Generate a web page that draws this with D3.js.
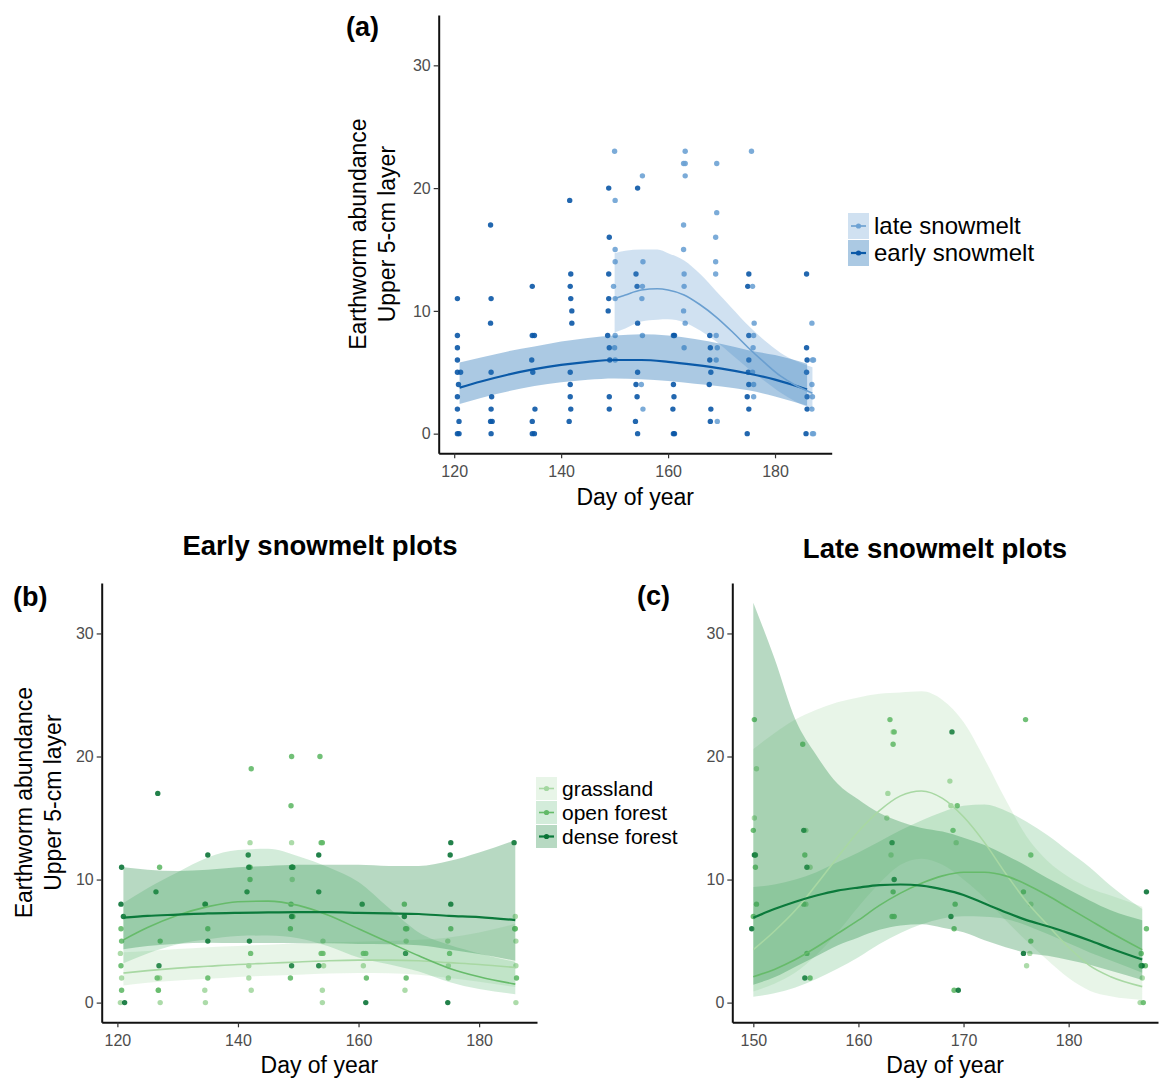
<!DOCTYPE html>
<html>
<head>
<meta charset="utf-8">
<script src="https://cdn.jsdelivr.net/npm/d3@7"></script>
<style>
  body { margin: 0; background: #fff; }
  text { font-family: "Liberation Sans", Arial, sans-serif; }
</style>
</head>
<body>
<svg id="chart" width="1161" height="1079"></svg>
<script>
// ---- data ----
var yTicks = [0, 10, 20, 30];
var xTicksAB = [120, 140, 160, 180];
var xTicksC = [150, 160, 170, 180];

// (a) observations [day, count]
var earlyPts = [
  [120.6,11],[120.6,8],[120.6,7],[120.6,6],[120.6,5],[121.2,5],[120.8,4],[120.6,3],[120.6,2],[120.9,1],[120.6,0],[120.9,0],
  [126.8,17],[126.9,11],[126.8,9],[126.9,5],[127.0,3],[126.9,2],[126.8,1],[127.1,1],[126.9,0],
  [134.6,12],[134.6,8],[135.0,8],[134.5,6],[134.7,5],[135.1,2],[134.6,1],[134.6,0],[135.0,0],
  [141.6,19],[141.8,13],[141.7,12],[141.8,11],[142.0,10],[142.0,9],[141.7,5],[141.7,4],[141.7,3],[141.8,2],[141.5,1],
  [148.9,20],[149.0,16],[148.9,13],[148.9,11],[148.8,10],[148.7,8],[149.0,7],[149.1,6],[149.0,3],[149.0,2],
  [154.3,20],[154.0,13],[154.2,12],[154.3,9],[154.3,5],[154.0,4],[154.2,3],[153.9,1],[154.3,0],
  [161.0,8],[161.2,8],[161.0,4],[161.1,3],[160.9,2],[161.0,0],[161.2,0],
  [167.8,8],[167.9,7],[167.8,6],[168.0,5],[167.7,4],[168.0,2],[167.9,1],
  [175.1,13],[174.9,12],[175.1,8],[175.1,6],[175.0,5],[175.1,4],[174.8,3],[175.1,2],[174.8,0],
  [185.9,13],[185.9,7],[186.0,6],[185.9,5],[186.0,3],[186.0,2],[185.8,0]
];
var latePts = [
  [150.0,23],[150.1,19],[150.1,15],[150.1,14],[149.8,12],[150.1,11],[150.1,8],[150.0,7],[150.1,6],
  [155.2,21],[155.3,14],[155.2,12],[155.1,11],[155.2,8],[155.0,4],[155.3,2],
  [163.2,23],[162.9,22],[163.2,22],[163.2,21],[162.9,17],[162.9,15],[163.0,13],[163.0,12],[162.9,10],[163.2,9],[163.0,7],
  [169.1,22],[169.1,18],[168.9,16],[168.9,14],[168.9,13],[169.0,8],[169.2,7],[169.0,6],[169.2,1],
  [175.6,23],[175.8,12],[176.1,9],[176.0,8],[175.9,7],[175.8,5],[176.0,4],[176.0,3],
  [186.9,9],[187.0,6],[187.2,6],[186.9,4],[187.0,3],[186.9,2],[187.0,0],[187.2,0]
];

// (a) smooth fits
var earlyDays = [121, 125, 130, 135, 140, 145, 150, 155, 160, 165, 170, 175, 180, 186];
var earlyFit  = [3.75, 4.25, 4.8, 5.25, 5.6, 5.85, 6.0, 6.0, 5.85, 5.6, 5.3, 4.9, 4.4, 3.6];
var earlyHi   = [5.8, 6.2, 6.7, 7.1, 7.5, 7.8, 8.0, 8.1, 8.0, 7.7, 7.3, 6.8, 6.4, 5.7];
var earlyLo   = [2.42, 2.91, 3.44, 3.88, 4.18, 4.39, 4.5, 4.44, 4.28, 4.07, 3.85, 3.53, 3.03, 2.27];

var lateDays = [150, 152, 155, 158, 160, 163, 166, 169, 172, 175, 178, 181, 184, 187];
var lateFit  = [11.0, 11.3, 11.7, 11.8, 11.7, 11.3, 10.5, 9.5, 8.3, 7.0, 5.8, 4.7, 3.9, 3.3];
var lateHi   = [14.7, 14.9, 15.0, 15.0, 14.7, 14.1, 13.0, 11.6, 10.2, 8.8, 7.6, 6.6, 5.9, 5.4];
var lateLo   = [8.23, 8.57, 9.13, 9.28, 9.31, 9.06, 8.4, 7.5, 6.4, 5.3, 4.3, 3.35, 2.58, 2.02];

// (b) early snowmelt plots, observations
var bDensePts = [
  [120.7,11],[120.6,8],[121.0,7],[121.2,0],[126.7,17],[126.4,9],[126.9,3],[135.0,12],[134.6,8],[135.0,5],
  [141.7,12],[141.8,11],[141.5,9],[141.9,5],[148.9,11],[149.1,11],[148.9,7],[148.9,3],[153.4,12],[153.4,9],[153.4,3],
  [160.6,8],[161.2,0],[167.6,7],[167.8,4],[175.3,13],[175.2,12],[175.3,8],[174.8,0],[185.8,13]
];
var bOpenPts = [
  [120.6,6],[120.7,5],[120.6,3],[120.7,1],[127.0,11],[127.1,5],[126.6,2],[126.8,1],[134.5,8],[135.0,6],[135.0,2],
  [142.2,19],[142.0,11],[142.0,10],[142.1,4],[148.9,20],[148.8,16],[149.0,11],[148.8,8],[149.1,7],[148.7,6],[148.7,2],
  [153.6,20],[153.8,13],[154.0,13],[153.8,4],[154.1,4],[160.8,4],[161.2,4],[161.3,2],
  [167.6,8],[167.8,6],[168.0,6],[167.9,2],[175.3,6],[175.1,4],[185.9,6],[186.0,6],[186.2,2]
];
var bGrassPts = [
  [120.5,4],[120.7,2],[120.5,0],[127.0,2],[126.8,1],[127.1,0],[134.5,1],[134.6,0],[142.0,13],[141.8,3],[141.8,2],[142.2,1],
  [148.9,13],[149.0,10],[154.1,5],[154.2,3],[154.0,1],[154.0,0],[160.8,3],[167.9,5],[167.7,1],
  [174.8,5],[174.9,3],[174.9,2],[186.0,7],[186.1,5],[186.1,3],[186.1,0]
];

// (b) smooth fits
var bDays     = [121, 125, 130, 135, 140, 145, 150, 155, 160, 165, 170, 175, 180, 186];
var bDenseFit = [6.9, 7.05, 7.15, 7.25, 7.3, 7.33, 7.35, 7.35, 7.3, 7.25, 7.2, 7.05, 6.95, 6.7];
var bDenseHi  = [11.0, 10.8, 10.7, 10.8, 11.0, 11.1, 11.2, 11.2, 11.2, 11.1, 11.1, 11.5, 12.2, 13.2];
var bDenseLo  = [4.33, 4.6, 4.78, 4.87, 4.84, 4.84, 4.82, 4.82, 4.76, 4.74, 4.67, 4.32, 3.96, 3.4];
var bOpenFit  = [5.1, 6.1, 7.1, 7.8, 8.2, 8.25, 7.9, 7.1, 6.0, 4.9, 3.8, 2.8, 2.1, 1.5];
var bOpenHi   = [8.1, 9.3, 10.6, 11.8, 12.4, 12.5, 11.9, 11.0, 9.8, 7.7, 5.7, 4.7, 4.0, 3.3];
var bOpenLo   = [3.2, 4.0, 4.75, 5.15, 5.42, 5.45, 5.24, 4.58, 3.67, 3.12, 2.53, 1.67, 1.1, 0.68];
var bGrassFit = [2.4, 2.6, 2.8, 2.95, 3.1, 3.2, 3.3, 3.4, 3.45, 3.45, 3.4, 3.25, 3.1, 2.85];
var bGrassHi  = [4.1, 4.2, 4.35, 4.5, 4.6, 4.7, 4.8, 4.9, 4.95, 5.0, 5.1, 5.3, 5.7, 6.4];
var bGrassLo  = [1.4, 1.61, 1.8, 1.93, 2.09, 2.18, 2.27, 2.36, 2.4, 2.38, 2.27, 1.99, 1.69, 1.27];

// (c) late snowmelt plots, observations
var cDensePts = [
  [150.2,12],[150.1,12],[149.85,6],[154.8,14],[155.1,11],[154.9,2],[163.2,13],[163.4,10],
  [168.9,22],[168.8,7],[169.5,1],[175.7,4],[187.4,9],[186.9,3],[187.0,3]
];
var cOpenPts = [
  [150.1,23],[150.0,14],[150.2,11],[150.3,8],[150.0,7],[154.7,21],[154.9,12],[154.8,8],[155.1,4],[155.4,2],
  [163.0,23],[163.4,22],[163.3,21],[163.3,9],[163.2,7],[163.4,7],[169.4,16],[169.0,14],[169.2,8],[169.1,6],[169.1,1],
  [175.9,23],[176.4,12],[175.7,9],[176.4,5],[187.4,6],[186.9,4],[187.3,3],[187.1,0]
];
var cGrassPts = [
  [150.1,15],[150.3,19],[155.0,14],[155.0,8],[155.4,11],[163.3,22],[162.8,17],[162.7,15],[163.1,12],
  [168.7,18],[168.8,16],[169.3,13],[176.4,8],[176.3,4],[176.0,3],[187.0,2],[186.8,0]
];

// (c) smooth fits
var cDays     = [150, 152, 154, 156, 158, 160, 162, 164, 166, 168, 170, 172, 174, 176, 178, 180, 182, 184, 187];
var cDenseFit = [6.9, 7.6, 8.2, 8.7, 9.1, 9.35, 9.55, 9.6, 9.5, 9.2, 8.75, 8.05, 7.35, 6.7, 6.2, 5.65, 5.05, 4.4, 3.5];
var cDenseHi  = [32.5, 28, 23, 20.1, 17.8, 16.5, 15.4, 14.7, 14.2, 13.9, 13.4, 12.8, 12.0, 11.1, 10.1, 9.2, 8.3, 7.5, 6.7];
var cDenseLo  = [1.46, 2.06, 2.92, 3.77, 4.65, 5.3, 5.92, 6.27, 6.36, 6.09, 5.71, 5.06, 4.5, 4.04, 3.8, 3.47, 3.07, 2.58, 1.83];
var cOpenFit  = [2.1, 2.7, 3.5, 4.5, 5.6, 6.7, 7.9, 8.9, 9.7, 10.3, 10.6, 10.6, 10.3, 9.6, 8.7, 7.7, 6.7, 5.7, 4.3];
var cOpenHi   = [9.4, 9.6, 10.0, 10.6, 11.4, 12.2, 13.1, 14.0, 14.8, 15.5, 16.0, 16.1, 15.6, 14.7, 13.6, 12.3, 11.0, 9.5, 7.6];
var cOpenLo   = [0.47, 0.76, 1.23, 1.91, 2.75, 3.68, 4.76, 5.66, 6.36, 6.84, 7.02, 6.98, 6.8, 6.27, 5.57, 4.82, 4.08, 3.42, 2.43];
var cGrassFit = [4.3, 5.8, 7.5, 9.6, 11.8, 13.9, 15.6, 16.8, 17.2, 16.6, 15.1, 13.0, 10.5, 8.2, 6.3, 4.5, 3.0, 2.1, 1.3];
var cGrassHi  = [20.6, 21.9, 23.0, 23.8, 24.4, 24.8, 25.1, 25.2, 25.3, 24.6, 22.8, 19.8, 16.5, 13.5, 11.5, 10.2, 9.3, 8.7, 7.8];
var cGrassLo  = [0.9, 1.54, 2.45, 3.87, 5.7, 7.8, 9.7, 11.2, 11.7, 11.2, 10.0, 8.5, 6.7, 5.0, 3.45, 2.0, 0.97, 0.51, 0.22];

// ---- styles ----
var styles = {
  early: { label: 'early snowmelt', point: '#0a56a6', line: '#0b5aa8', band: '#2171b5', bandOp: 0.38, lw: 2.2 },
  late:  { label: 'late snowmelt',  point: '#6da2d4', line: '#6a9fd0', band: '#4a8bc8', bandOp: 0.26, lw: 1.6 },
  grass: { label: 'grassland',      point: '#a3d7a0', line: '#a8d8a3', band: '#74c476', bandOp: 0.17, lw: 1.6 },
  open:  { label: 'open forest',    point: '#62b968', line: '#66bb6a', band: '#41ab5d', bandOp: 0.23, lw: 1.6 },
  dense: { label: 'dense forest',   point: '#0a7336', line: '#0b7a3b', band: '#238b45', bandOp: 0.33, lw: 2.2 }
};

var svg = d3.select('#chart');

function curve(days, fit, lo, hi) {
  return days.map(function (d, i) {
    return { day: d, fit: fit[i], lo: lo[i], hi: hi[i] };
  });
}

function drawPanel(p) {
  var x = d3.scaleLinear().domain(p.xDomain).range([p.left, p.right]);
  var y = d3.scaleLinear().domain([-1.6, 34.1]).range([p.bottom, p.top]);
  var g = svg.append('g');

  // points first (ribbons sit over them)
  p.series.forEach(function (s) {
    var st = styles[s.key];
    g.append('g').selectAll('circle')
      .data(s.pts)
      .enter()
      .append('circle')
      .attr('cx', function (d) { return x(d[0]); })
      .attr('cy', function (d) { return y(d[1]); })
      .attr('r', 2.7)
      .attr('fill', st.point)
      .attr('fill-opacity', 0.9);
  });

  var area = d3.area()
    .x(function (d) { return x(d.day); })
    .y0(function (d) { return y(d.lo); })
    .y1(function (d) { return y(d.hi); })
    .curve(d3.curveMonotoneX);

  var line = d3.line()
    .x(function (d) { return x(d.day); })
    .y(function (d) { return y(d.fit); })
    .curve(d3.curveMonotoneX);

  p.series.forEach(function (s) {
    var st = styles[s.key];
    g.append('path')
      .datum(s.curve)
      .attr('d', area)
      .attr('fill', st.band)
      .attr('fill-opacity', st.bandOp);
  });

  p.series.forEach(function (s) {
    var st = styles[s.key];
    g.append('path')
      .datum(s.curve)
      .attr('d', line)
      .attr('fill', 'none')
      .attr('stroke', st.line)
      .attr('stroke-width', st.lw);
  });

  // axes
  var xAxis = g.append('g')
    .attr('transform', 'translate(0,' + p.bottom + ')')
    .call(d3.axisBottom(x).tickValues(p.xTicks).tickSize(5).tickSizeOuter(0).tickPadding(7));
  var yAxis = g.append('g')
    .attr('transform', 'translate(' + p.left + ',0)')
    .call(d3.axisLeft(y).tickValues(yTicks).tickSize(5).tickSizeOuter(0).tickPadding(3));

  [xAxis, yAxis].forEach(function (ax) {
    ax.select('.domain').attr('stroke', '#111').attr('stroke-width', 2);
    ax.selectAll('.tick line').attr('stroke', '#333').attr('stroke-width', 1.2);
    ax.selectAll('.tick text')
      .attr('font-size', '16px')
      .attr('fill', '#4d4d4d')
      .attr('font-family', '"Liberation Sans", Arial, sans-serif');
  });

  g.append('text')
    .text('Day of year')
    .attr('x', (p.left + p.right) / 2)
    .attr('y', p.xTitleY)
    .attr('text-anchor', 'middle')
    .attr('font-size', '23px')
    .attr('fill', '#000');

  if (p.yTitleX) {
    var cy = (p.top + p.bottom) / 2;
    ['Earthworm abundance', 'Upper 5-cm layer'].forEach(function (t, i) {
      g.append('text')
        .text(t)
        .attr('transform', 'translate(' + (p.yTitleX + i * 28.5) + ',' + cy + ') rotate(-90)')
        .attr('text-anchor', 'middle')
        .attr('font-size', '23px')
        .attr('fill', '#000');
    });
  }

  g.append('text')
    .text(p.tag)
    .attr('x', p.tagX)
    .attr('y', p.tagY)
    .attr('font-size', '27px')
    .attr('font-weight', 'bold')
    .attr('fill', '#000');

  if (p.legend) drawLegend(p.legend);
}

function drawLegend(lg) {
  var g = svg.append('g').attr('transform', 'translate(' + lg.x + ',' + lg.y + ')');
  lg.keys.forEach(function (k, i) {
    var st = styles[k];
    var h = lg.step - 1;
    var row = g.append('g').attr('transform', 'translate(0,' + (i * lg.step) + ')');
    row.append('rect')
      .attr('width', 21).attr('height', h)
      .attr('fill', st.band).attr('fill-opacity', st.bandOp);
    row.append('line')
      .attr('x1', 3).attr('x2', 18)
      .attr('y1', h / 2).attr('y2', h / 2)
      .attr('stroke', st.line).attr('stroke-width', st.lw);
    row.append('circle')
      .attr('cx', 10.5).attr('cy', h / 2).attr('r', 2.6)
      .attr('fill', st.point);
    row.append('text')
      .text(st.label)
      .attr('x', 26)
      .attr('y', h / 2 + 7.5)
      .attr('font-size', lg.font)
      .attr('fill', '#000');
  });
}

drawPanel({
  tag: '(a)', tagX: 346, tagY: 36,
  left: 438.7, right: 831.7, top: 15, bottom: 453.3,
  xDomain: [117.1, 190.6], xTicks: xTicksAB, xTitleY: 505, yTitleX: 366,
  series: [
    { key: 'early', pts: earlyPts, curve: curve(earlyDays, earlyFit, earlyLo, earlyHi) },
    { key: 'late', pts: latePts, curve: curve(lateDays, lateFit, lateLo, lateHi) }
  ],
  legend: { x: 848, y: 213, step: 27, font: '24px', keys: ['late', 'early'] }
});

drawPanel({
  tag: '(b)', tagX: 13, tagY: 606,
  left: 101.7, right: 537, top: 583, bottom: 1022.3,
  xDomain: [117.4, 189.6], xTicks: xTicksAB, xTitleY: 1073, yTitleX: 32,
  series: [
    { key: 'grass', pts: bGrassPts, curve: curve(bDays, bGrassFit, bGrassLo, bGrassHi) },
    { key: 'open', pts: bOpenPts, curve: curve(bDays, bOpenFit, bOpenLo, bOpenHi) },
    { key: 'dense', pts: bDensePts, curve: curve(bDays, bDenseFit, bDenseLo, bDenseHi) }
  ],
  legend: { x: 536, y: 777, step: 24, font: '21px', keys: ['grass', 'open', 'dense'] }
});

drawPanel({
  tag: '(c)', tagX: 637, tagY: 605,
  left: 732.3, right: 1158, top: 583, bottom: 1022.3,
  xDomain: [148.0, 188.5], xTicks: xTicksC, xTitleY: 1073, yTitleX: null,
  series: [
    { key: 'grass', pts: cGrassPts, curve: curve(cDays, cGrassFit, cGrassLo, cGrassHi) },
    { key: 'open', pts: cOpenPts, curve: curve(cDays, cOpenFit, cOpenLo, cOpenHi) },
    { key: 'dense', pts: cDensePts, curve: curve(cDays, cDenseFit, cDenseLo, cDenseHi) }
  ]
});

// panel headings
svg.append('text').text('Early snowmelt plots')
  .attr('x', 320).attr('y', 555).attr('text-anchor', 'middle')
  .attr('font-size', '27.5px').attr('font-weight', 'bold');
svg.append('text').text('Late snowmelt plots')
  .attr('x', 935).attr('y', 558).attr('text-anchor', 'middle')
  .attr('font-size', '27.5px').attr('font-weight', 'bold');
</script>
</body>
</html>
